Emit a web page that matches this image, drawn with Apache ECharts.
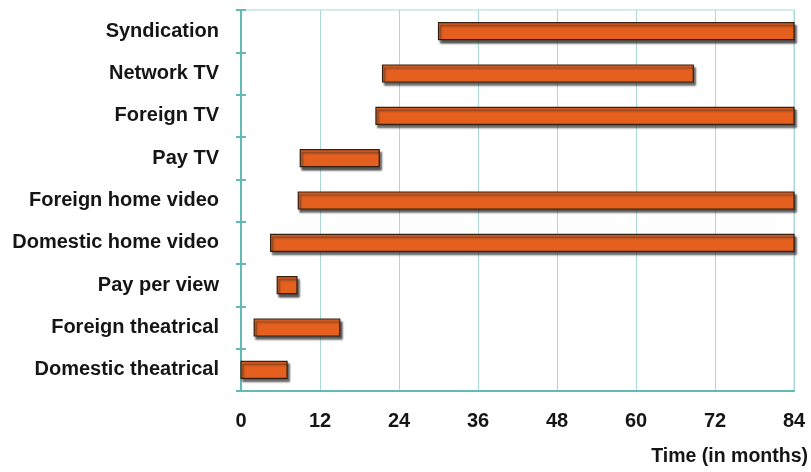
<!DOCTYPE html>
<html>
<head>
<meta charset="utf-8">
<script src="https://cdn.jsdelivr.net/npm/echarts@6/dist/echarts.min.js"></script>
<style>
  html, body { margin: 0; padding: 0; background: #ffffff; }
  #chart { width: 811px; height: 472px; }
</style>
</head>
<body>
<div id="chart"></div>
<script>
// Release windows, listed top to bottom
const channels = [
  'Syndication', 'Network TV', 'Foreign TV', 'Pay TV', 'Foreign home video',
  'Domestic home video', 'Pay per view', 'Foreign theatrical', 'Domestic theatrical'
];
// Start and end of each window, in months after release
const startMonths = [30, 21.5, 20.5, 9, 8.7, 4.5, 5.5, 2, 0];
const endMonths   = [84, 68.7, 84, 21, 84, 84, 8.5, 15, 7];
// Time axis
const timeMin = 0;
const timeMax = 84;
const timeStep = 12;
const timeTitle = 'Time (in months)';

const FONT = '"Liberation Sans", Arial, sans-serif';
const TEXT = '#151515';
const TEAL = '#62b9b6';
const TEAL_LIGHT = '#abd9d7';

const windows = channels.map((c, i) => [startMonths[i], endMonths[i], i]);

const chart = echarts.init(document.getElementById('chart'), null, { renderer: 'canvas' });

const yBase = {
  type: 'category',
  data: channels,
  inverse: true,
  position: 'left',
  boundaryGap: true
};

chart.setOption({
  animation: false,
  backgroundColor: '#ffffff',
  title: {
    text: timeTitle,
    right: 3,
    top: 447,
    padding: 0,
    textStyle: { fontFamily: FONT, fontWeight: 'bold', fontSize: 19.5, color: TEXT }
  },
  grid: {
    left: 241, right: 17, top: 10, bottom: 81,
    show: true, borderColor: TEAL_LIGHT, borderWidth: 1, backgroundColor: 'transparent'
  },
  xAxis: {
    type: 'value',
    min: timeMin,
    max: timeMax,
    interval: timeStep,
    axisLine: { show: true, lineStyle: { color: TEAL, width: 2 } },
    axisTick: { show: false },
    axisLabel: {
      margin: 20,
      fontFamily: FONT, fontWeight: 'bold', fontSize: 20, color: TEXT
    },
    splitLine: { show: true, lineStyle: { color: TEAL_LIGHT, width: 1 } }
  },
  yAxis: [
    Object.assign({}, yBase, {
      axisLine: { show: true, lineStyle: { color: TEAL, width: 2 } },
      axisTick: { show: true, inside: false, length: 5, lineStyle: { color: TEAL, width: 2 } },
      axisLabel: {
        margin: 22,
        fontFamily: FONT, fontWeight: 'bold', fontSize: 20, color: TEXT
      },
      splitLine: { show: false }
    }),
    Object.assign({}, yBase, {
      axisLine: { show: false },
      axisTick: { show: true, inside: true, length: 5, lineStyle: { color: TEAL, width: 2 } },
      axisLabel: { show: false },
      splitLine: { show: false }
    })
  ],
  series: [{
    type: 'custom',
    clip: false,
    data: windows,
    encode: { x: [0, 1], y: 2 },
    renderItem: function (params, api) {
      const cat = api.value(2);
      const p0 = api.coord([api.value(0), cat]);
      const p1 = api.coord([api.value(1), cat]);
      const h = 17;
      return {
        type: 'rect',
        shape: { x: p0[0], y: p0[1] - h / 2, width: p1[0] - p0[0], height: h },
        style: {
          fill: '#e5601f',
          stroke: '#35200f',
          lineWidth: 1.2,
          shadowColor: 'rgba(45,45,45,0.8)',
          shadowBlur: 2,
          shadowOffsetX: 2,
          shadowOffsetY: 3
        }
      };
    }
  }]
});
</script>
</body>
</html>
